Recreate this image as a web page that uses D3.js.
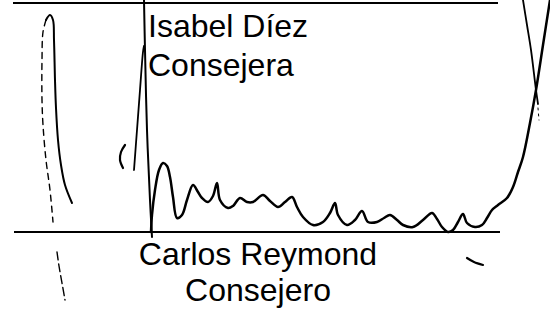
<!DOCTYPE html>
<html>
<head>
<meta charset="utf-8">
<script src="https://cdn.jsdelivr.net/npm/d3@7"></script>
<style>
  html, body { margin: 0; padding: 0; background: #fff; }
  text { font-family: "Liberation Sans", Arial, sans-serif; fill: #000; }
</style>
</head>
<body>
<div class="vis-sheet"></div>
<script>
// signature lines (sheet units, 0..550 x 0..309)
const topRule = [[13, 3], [498, 3]];
const bottomRule = [[14, 232], [500, 232]];

const nameTop = ['Isabel Díez', 'Consejera'];
const nameBottom = ['Carlos Reymond', 'Consejero'];

const stem = [[144, 0], [145, 50], [147, 130], [150, 200], [152, 237]];
const spike = [[134, 170], [137, 130], [140, 90], [143, 52], [144, 46]];
const wave = [
  [151, 232], [152, 215], [155, 190], [159, 170], [163, 163], [167, 166], [170, 177],
  [173, 197], [177, 218], [182, 215], [187, 200], [193, 185], [198, 192], [202, 198],
  [208, 202], [213, 196], [217, 183], [220, 200], [228, 208], [233, 206], [240, 198],
  [247, 202], [253, 202], [263, 195], [270, 201], [278, 207], [285, 202], [292, 197],
  [297, 207], [303, 217], [313, 225], [323, 222], [330, 213], [335, 203], [338, 215],
  [347, 225], [355, 220], [362, 211], [368, 222], [377, 222], [384, 218], [390, 215],
  [397, 220], [403, 225], [413, 227], [423, 220], [432, 213], [437, 219], [442, 227],
  [448, 232], [453, 230], [458, 222], [463, 214], [467, 223], [475, 227], [482, 225],
  [487, 218], [492, 210], [498, 205], [507, 198], [513, 187], [518, 172], [523, 157],
  [530, 123], [536, 90], [543, 45], [550, 0]
];
const cross = [[523, 0], [527, 25], [531, 50], [536, 90], [538, 104]];
const crossTick = [[538, 108], [539, 120]];
const loopSolid = [[46, 20], [50, 15], [53, 20], [54, 40], [55, 80], [56, 108], [58, 140], [61, 165], [65, 185], [72, 203]];
const loopFaint = [[46, 20], [43, 32], [42, 60], [42, 100], [43, 125], [46, 160], [50, 190], [53, 222]];
const tailFaint = [[57, 252], [59, 266], [62, 283], [65, 300]];
const hook = [[125, 145], [121, 152], [120, 160], [123, 168]];
const smile = [[467, 258], [474, 262], [483, 265]];

const width = 550, height = 309;

const svg = d3.select('.vis-sheet').append('svg')
    .attr('width', width)
    .attr('height', height);

const x = d3.scaleLinear().domain([0, 550]).range([0, width]);
const y = d3.scaleLinear().domain([0, 309]).range([0, height]);

const line = d3.line()
    .x(function (d) { return x(d[0]); })
    .y(function (d) { return y(d[1]); })
    .curve(d3.curveCatmullRom.alpha(0.5));

const straight = d3.line()
    .x(function (d) { return x(d[0]); })
    .y(function (d) { return y(d[1]); });

// printed rules
[topRule, bottomRule].forEach(function (r) {
    svg.append('path')
        .attr('d', straight(r))
        .attr('fill', 'none')
        .attr('stroke', '#000')
        .attr('stroke-width', 2.2);
});

// ink strokes
const strokes = [
    { pts: stem, w: 2 },
    { pts: spike, w: 1.8 },
    { pts: wave, w: 2.5 },
    { pts: cross, w: 1.8 },
    { pts: crossTick, w: 1, dash: '2,4' },
    { pts: loopSolid, w: 2 },
    { pts: loopFaint, w: 1.4, dash: '6,5' },
    { pts: tailFaint, w: 1.4, dash: '8,4' },
    { pts: hook, w: 2.2 },
    { pts: smile, w: 2.2 }
];

svg.selectAll('.ink')
    .data(strokes)
    .enter().append('path')
    .attr('class', 'ink')
    .attr('d', function (d) { return line(d.pts); })
    .attr('fill', 'none')
    .attr('stroke', '#000')
    .attr('stroke-linecap', 'round')
    .attr('stroke-width', function (d) { return d.w; })
    .attr('stroke-dasharray', function (d) { return d.dash || null; });

// names
svg.selectAll('.name-top')
    .data(nameTop)
    .enter().append('text')
    .attr('class', 'name-top')
    .attr('x', 148)
    .attr('y', function (d, i) { return 37 + i * 39; })
    .style('font-size', '32px')
    .text(function (d) { return d; });

svg.selectAll('.name-bottom')
    .data(nameBottom)
    .enter().append('text')
    .attr('class', 'name-bottom')
    .attr('x', 258)
    .attr('y', function (d, i) { return 265 + i * 36; })
    .attr('text-anchor', 'middle')
    .style('font-size', '32px')
    .text(function (d) { return d; });
</script>
</body>
</html>
